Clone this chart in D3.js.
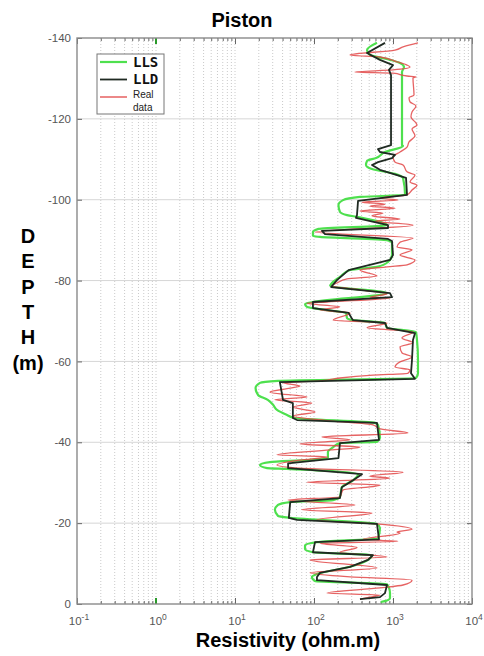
<!DOCTYPE html>
<html><head><meta charset="utf-8">
<script src="https://cdn.jsdelivr.net/npm/d3@7"></script>
<style>body{margin:0;background:#fff} svg{display:block}</style>
</head><body>
<svg id="c" width="484" height="656"></svg>
<script>
// ---- data ----
const title = "Piston";
const xLabel = "Resistivity (ohm.m)";
const yLabelLetters = ["D", "E", "P", "T", "H", "(m)"];
const xDecades = [-1, 0, 1, 2, 3, 4];
const yTicks = [-140, -120, -100, -80, -60, -40, -20, 0];
const seriesNames = ["LLS", "LLD", "Real data"];

// [depth (m), resistivity (ohm.m)]
const lldPoints = [[-138.8,792],[-136.3,469],[-134.6,684],[-133.3,1000],[-132.1,890],[-130.8,944],[-113.5,944],[-112.5,646],[-111.8,684],[-111.1,1060],[-110.3,971],[-109.3,646],[-108.6,542],[-107.4,684],[-105.4,1462],[-101.2,1505],[-99.7,361],[-96.2,350],[-95.5,340],[-93.7,865],[-93.0,865],[-92.3,126],[-91.5,138],[-90.3,865],[-89.8,971],[-86.3,1000],[-85.1,916],[-82.6,274],[-80.1,195],[-78.4,165],[-76.9,916],[-75.9,971],[-74.7,97],[-73.2,97],[-72.0,274],[-70.7,300],[-70.2,312],[-69.5,792],[-68.3,840],[-67.0,1898],[-65.3,1790],[-60.4,1740],[-57.1,1690],[-55.7,1898],[-54.9,37],[-50.5,40.5],[-49.7,54],[-46.0,54],[-45.5,61],[-44.8,627],[-40.6,665],[-39.8,213],[-36.1,204],[-34.8,47],[-33.6,47],[-32.1,405],[-30.6,312],[-28.9,225],[-26.2,213],[-25.2,50],[-21.3,48],[-20.8,61],[-19.8,627],[-16.0,665],[-15.3,103],[-12.8,97],[-12.1,558],[-10.9,483],[-9.2,286],[-7.7,119],[-6.7,109],[-5.9,109],[-4.7,840],[-2.7,792],[-1.7,684],[-1.2,382]];

const llsPoints = [[-138.8,627],[-137.0,469],[-135.8,512],[-134.6,916],[-133.8,1227],[-132.8,1378],[-131.6,1300],[-113.5,1300],[-113.3,1340],[-111.8,792],[-110.3,610],[-109.6,469],[-108.6,455],[-107.6,542],[-106.4,1060],[-105.4,1340],[-101.2,1420],[-100.7,382],[-99.9,233],[-98.7,204],[-97.0,213],[-96.2,262],[-95.7,361],[-93.7,840],[-92.8,114],[-92.0,97],[-91.0,97],[-90.8,119],[-90.0,840],[-89.3,971],[-86.3,971],[-84.6,865],[-83.4,627],[-82.6,286],[-80.9,213],[-79.4,169],[-78.7,160],[-76.9,840],[-74.7,97],[-74.2,77],[-73.5,81.5],[-72.7,146],[-72.0,255],[-70.7,262],[-70.2,312],[-69.5,792],[-68.3,840],[-67.3,1954],[-65.3,2012],[-60.4,2071],[-57.1,2071],[-55.9,1954],[-55.2,35],[-54.7,20.7],[-53.4,18.2],[-51.7,19.6],[-50.5,26],[-49.2,30.5],[-48.0,34],[-46.8,45],[-46.0,57],[-44.8,592],[-44.3,646],[-41.1,684],[-40.1,627],[-39.8,213],[-38.8,175],[-37.6,150],[-36.1,150],[-35.6,81.5],[-35.1,27.7],[-34.4,20.7],[-33.6,25.5],[-33.4,45],[-32.1,361],[-30.6,312],[-28.9,225],[-26.5,213],[-25.7,174],[-25.2,50],[-24.5,35],[-23.3,32],[-21.8,35],[-21.3,50],[-19.8,627],[-18.8,684],[-16.3,646],[-15.3,109],[-14.5,77],[-13.6,77],[-12.8,97],[-12.1,542],[-10.9,483],[-9.2,286],[-7.4,109],[-6.7,94],[-5.7,103],[-4.9,840],[-4.0,890],[-2.7,916],[-1.5,916],[-0.7,792],[-0.5,700]];

const realPoints = [[-138.8,2071],[-138.3,1641],[-137.8,1340],[-137.0,1060],[-135.8,286],[-135.3,684],[-134.1,1124],[-133.3,1505],[-132.8,1641],[-132.1,1000],[-131.6,330],[-131.3,1000],[-130.6,1505],[-130.4,1954],[-130.1,1790],[-125.9,1845],[-125.2,1595],[-124.2,1641],[-123.2,1954],[-121.7,1740],[-120.5,1690],[-118.5,2012],[-117.5,1740],[-115.8,1898],[-114.3,1595],[-113.0,1505],[-111.8,1227],[-110.6,1000],[-109.3,1060],[-108.6,1340],[-106.9,1505],[-106.1,1898],[-104.4,1641],[-103.6,2012],[-102.4,1740],[-101.2,1505],[-100.4,684],[-99.9,1156],[-99.4,405],[-98.9,792],[-98.4,512],[-97.9,1060],[-97.2,382],[-96.7,746],[-96.0,542],[-95.2,1227],[-94.7,592],[-93.7,1790],[-92.0,103],[-90.5,1790],[-89.5,1227],[-88.3,1124],[-87.6,1740],[-86.3,1227],[-85.1,1898],[-83.9,1505],[-83.4,840],[-82.6,382],[-81.1,627],[-80.4,262],[-79.4,195],[-78.7,169],[-77.7,382],[-76.7,840],[-75.9,512],[-75.7,916],[-74.7,146],[-74.4,81.5],[-73.5,213],[-72.7,119],[-72.0,286],[-70.2,175],[-69.5,840],[-68.3,469],[-67.3,1790],[-65.8,1300],[-64.6,1790],[-63.6,1227],[-62.1,1300],[-61.1,1740],[-59.9,1227],[-58.6,1060],[-57.9,1641],[-57.1,1549],[-56.6,558],[-55.9,213],[-55.2,119],[-54.7,40.5],[-53.9,66.5],[-53.4,50],[-52.4,27.7],[-51.2,81.5],[-50.5,32],[-49.7,93.5],[-48.7,54],[-47.5,103],[-46.5,54],[-45.3,160],[-44.3,558],[-43.3,684],[-42.3,1549],[-41.3,126],[-40.6,286],[-39.6,66.5],[-38.8,382],[-38.1,160],[-36.9,34],[-36.4,150],[-35.6,66.5],[-34.4,34],[-33.6,66.5],[-32.6,1340],[-31.6,512],[-31.1,916],[-30.1,81.5],[-29.4,684],[-28.2,233],[-26.5,213],[-25.7,47],[-24.5,330],[-23.3,70],[-22.5,542],[-20.8,109],[-19.8,627],[-18.5,1740],[-17.8,1124],[-17.5,1227],[-16.0,417],[-15.5,1156],[-15.0,119],[-14.0,350],[-12.8,213],[-11.6,840],[-10.9,89],[-8.9,627],[-7.7,89],[-6.7,286],[-5.9,1740],[-4.7,1340],[-4.0,684],[-2.7,146],[-2.2,684],[-1.7,512],[-1.2,382]];

// ---- layout ----
const L = 77, R = 472, T = 38, B = 604;
const svg = d3.select('#c');
const x = d3.scaleLog().domain([Math.pow(10, xDecades[0]), Math.pow(10, xDecades[xDecades.length-1])]).range([L, R]);
const y = d3.scaleLinear().domain([yTicks[0], yTicks[yTicks.length-1]]).range([T, B]);

const majors = xDecades.map(e => Math.pow(10, e));
const minors = [];
for (let i = 0; i < xDecades.length - 1; i++)
  for (let m = 2; m <= 9; m++) minors.push(m * Math.pow(10, xDecades[i]));

svg.append('rect').attr('x', L).attr('y', T).attr('width', R-L).attr('height', B-T).attr('fill', '#fff');

// grid
svg.append('g').selectAll('line').data(minors.concat(majors.slice(1, -1))).join('line')
  .attr('x1', d => x(d)).attr('x2', d => x(d)).attr('y1', T).attr('y2', B)
  .attr('stroke', '#bdbdbd').attr('stroke-width', 0.8).attr('stroke-dasharray', '1,2');
svg.append('g').selectAll('line').data(yTicks.slice(1, -1)).join('line')
  .attr('x1', L).attr('x2', R).attr('y1', d => y(d)).attr('y2', d => y(d))
  .attr('stroke', '#d6d6d6').attr('stroke-width', 1);

// axes ticks (inside)
function styleAxis(g) {
  g.select('.domain').remove();
  g.selectAll('.tick line').attr('stroke', '#666');
}
svg.append('g').attr('transform', `translate(0,${B})`)
  .call(d3.axisBottom(x).tickValues(majors).tickSize(-6).tickSizeOuter(0).tickFormat(''))
  .call(styleAxis);
svg.append('g').attr('transform', `translate(0,${B})`)
  .call(d3.axisBottom(x).tickValues(minors).tickSize(-3).tickSizeOuter(0).tickFormat(''))
  .call(styleAxis);
svg.append('g').attr('transform', `translate(0,${T})`)
  .call(d3.axisTop(x).tickValues(majors).tickSize(-6).tickSizeOuter(0).tickFormat(''))
  .call(styleAxis);
svg.append('g').attr('transform', `translate(0,${T})`)
  .call(d3.axisTop(x).tickValues(minors).tickSize(-3).tickSizeOuter(0).tickFormat(''))
  .call(styleAxis);
const yl = svg.append('g').attr('transform', `translate(${L},0)`)
  .call(d3.axisLeft(y).tickValues(yTicks).tickSize(-5).tickSizeOuter(0).tickPadding(6).tickFormat(d => String(d)))
  .call(styleAxis);
yl.selectAll('text').attr('font-family', 'Liberation Sans, Arial, sans-serif').attr('font-size', 11.5).attr('fill', '#555');
svg.append('g').attr('transform', `translate(${R},0)`)
  .call(d3.axisRight(y).tickValues(yTicks).tickSize(-5).tickSizeOuter(0).tickFormat(''))
  .call(styleAxis);

// green tick mark at 10^0
[[T, T+6], [B-6, B]].forEach(([a, b]) => {
  svg.append('line').attr('x1', x(1)).attr('x2', x(1)).attr('y1', a).attr('y2', b)
    .attr('stroke', '#2a9a2a').attr('stroke-width', 2);
});

// x tick labels 10^e
const xl = svg.append('g').selectAll('text').data(xDecades).join('text')
  .attr('x', d => x(Math.pow(10, d)) + 2).attr('y', 625)
  .attr('text-anchor', 'middle').attr('font-family', 'Liberation Sans, Arial, sans-serif')
  .attr('font-size', 11.5).attr('fill', '#555');
xl.append('tspan').text('10');
xl.append('tspan').attr('dy', -5).attr('font-size', 8.5).text(d => String(d));

// curves
const line = d3.line().x(d => x(d[1])).y(d => y(d[0]));
const plot = svg.append('g');
plot.append('path').datum(llsPoints).attr('d', line.curve(d3.curveMonotoneY))
  .attr('fill', 'none').attr('stroke', '#4ee04e').attr('stroke-width', 2.2).attr('stroke-linejoin', 'round');
plot.append('path').datum(realPoints).attr('d', line.curve(d3.curveMonotoneY))
  .attr('fill', 'none').attr('stroke', '#e24848').attr('stroke-width', 1.3).attr('stroke-opacity', 0.85).attr('stroke-linejoin', 'round');
plot.append('path').datum(lldPoints).attr('d', line.curve(d3.curveLinear))
  .attr('fill', 'none').attr('stroke', '#1f2a22').attr('stroke-width', 1.8).attr('stroke-linejoin', 'round');

// box
svg.append('rect').attr('x', L).attr('y', T).attr('width', R-L).attr('height', B-T)
  .attr('fill', 'none').attr('stroke', '#8a8a8a').attr('stroke-width', 1.4);

// legend
const lg = svg.append('g');
lg.append('rect').attr('x', 97).attr('y', 54).attr('width', 67).attr('height', 60)
  .attr('fill', '#fff').attr('stroke', '#777').attr('stroke-width', 1);
const legColors = ['#4ee04e', '#1f2a22', '#e24848'];
const legW = [2.2, 1.8, 1.3];
const legY = [62, 79.5, 97];
seriesNames.forEach((n, i) => {
  lg.append('line').attr('x1', 100).attr('x2', 127).attr('y1', legY[i]).attr('y2', legY[i])
    .attr('stroke', legColors[i]).attr('stroke-width', legW[i]);
});
lg.append('text').attr('x', 133).attr('y', 66.5).text(seriesNames[0])
  .attr('font-family', 'DejaVu Sans Mono, monospace').attr('font-weight', 'bold').attr('font-size', 14).attr('fill', '#111');
lg.append('text').attr('x', 133).attr('y', 84).text(seriesNames[1])
  .attr('font-family', 'DejaVu Sans Mono, monospace').attr('font-weight', 'bold').attr('font-size', 14).attr('fill', '#111');
const parts = seriesNames[2].split(' ');
lg.append('text').attr('x', 133).attr('y', 97.5).text(parts[0])
  .attr('font-family', 'Liberation Sans, Arial, sans-serif').attr('font-size', 10).attr('fill', '#222');
lg.append('text').attr('x', 133).attr('y', 111).text(parts[1])
  .attr('font-family', 'Liberation Sans, Arial, sans-serif').attr('font-size', 10).attr('fill', '#222');

// titles
svg.append('text').attr('x', 242).attr('y', 27).attr('text-anchor', 'middle')
  .attr('font-family', 'Liberation Sans, Arial, sans-serif').attr('font-weight', 'bold').attr('font-size', 20).text(title);
svg.append('text').attr('x', 288).attr('y', 647).attr('text-anchor', 'middle')
  .attr('font-family', 'Liberation Sans, Arial, sans-serif').attr('font-weight', 'bold').attr('font-size', 20).text(xLabel);
svg.append('g').selectAll('text').data(yLabelLetters).join('text')
  .attr('x', 28).attr('y', (d, i) => 243 + i * 25.3).attr('text-anchor', 'middle')
  .attr('font-family', 'Liberation Sans, Arial, sans-serif').attr('font-weight', 'bold').attr('font-size', 20)
  .text(d => d);
</script>
</body></html>
